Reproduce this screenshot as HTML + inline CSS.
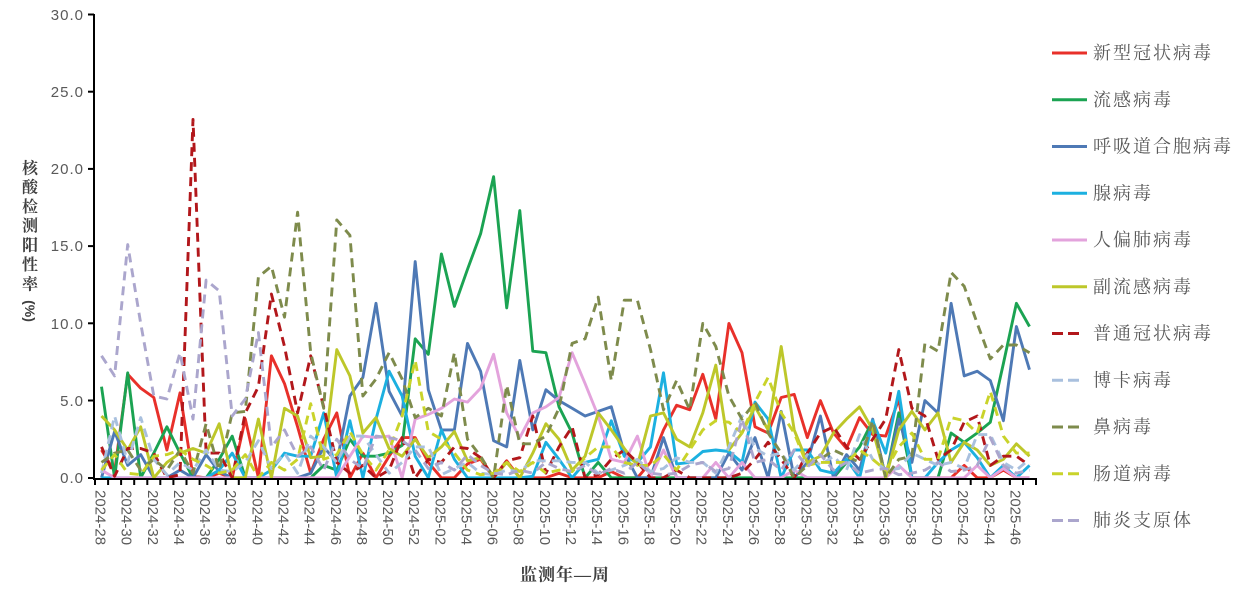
<!DOCTYPE html>
<html><head><meta charset="utf-8">
<style>
html,body{margin:0;padding:0;background:#fff;}
svg{display:block;}
.yt{font-family:"Liberation Sans",sans-serif;font-size:15px;fill:#595959;letter-spacing:1px;}
.xt{font-family:"Liberation Sans",sans-serif;font-size:15px;fill:#595959;}
.lg{font-family:"Liberation Serif","Noto Serif CJK SC",serif;font-size:18px;fill:#595959;letter-spacing:2px;}
.ti{font-family:"Liberation Serif","Noto Serif CJK SC",serif;font-weight:bold;fill:#404040;}
</style></head><body>
<svg id="c" width="1247" height="605" viewBox="0 0 1247 605" xmlns="http://www.w3.org/2000/svg">
<g id="series" fill="none" stroke-width="2.9" stroke-linejoin="round"></g>
<g stroke="#000" stroke-width="2" fill="none">
<line x1="94" y1="14" x2="94" y2="479"/>
<line x1="93" y1="479" x2="1036" y2="479"/>
<line x1="88" y1="14.5" x2="94" y2="14.5"/>
<line x1="88" y1="91.7" x2="94" y2="91.7"/>
<line x1="88" y1="168.9" x2="94" y2="168.9"/>
<line x1="88" y1="246.1" x2="94" y2="246.1"/>
<line x1="88" y1="323.3" x2="94" y2="323.3"/>
<line x1="88" y1="400.5" x2="94" y2="400.5"/>
<line x1="88" y1="478" x2="94" y2="478"/>
</g>
<g id="xticks" stroke="#000" stroke-width="2"></g>
<g class="yt" text-anchor="end">
<text x="84" y="20">30.0</text>
<text x="84" y="97">25.0</text>
<text x="84" y="174">20.0</text>
<text x="84" y="251">15.0</text>
<text x="84" y="329">10.0</text>
<text x="84" y="406">5.0</text>
<text x="84" y="483">0.0</text>
</g>
<g class="xt" dominant-baseline="central">
<text transform="translate(100,490) rotate(90)">2024-28</text>
<text transform="translate(126.1,490) rotate(90)">2024-30</text>
<text transform="translate(152.3,490) rotate(90)">2024-32</text>
<text transform="translate(178.4,490) rotate(90)">2024-34</text>
<text transform="translate(204.6,490) rotate(90)">2024-36</text>
<text transform="translate(230.7,490) rotate(90)">2024-38</text>
<text transform="translate(256.8,490) rotate(90)">2024-40</text>
<text transform="translate(283,490) rotate(90)">2024-42</text>
<text transform="translate(309.1,490) rotate(90)">2024-44</text>
<text transform="translate(335.3,490) rotate(90)">2024-46</text>
<text transform="translate(361.4,490) rotate(90)">2024-48</text>
<text transform="translate(387.5,490) rotate(90)">2024-50</text>
<text transform="translate(413.7,490) rotate(90)">2024-52</text>
<text transform="translate(439.8,490) rotate(90)">2025-02</text>
<text transform="translate(466,490) rotate(90)">2025-04</text>
<text transform="translate(492.1,490) rotate(90)">2025-06</text>
<text transform="translate(518.2,490) rotate(90)">2025-08</text>
<text transform="translate(544.4,490) rotate(90)">2025-10</text>
<text transform="translate(570.5,490) rotate(90)">2025-12</text>
<text transform="translate(596.7,490) rotate(90)">2025-14</text>
<text transform="translate(622.8,490) rotate(90)">2025-16</text>
<text transform="translate(648.9,490) rotate(90)">2025-18</text>
<text transform="translate(675.1,490) rotate(90)">2025-20</text>
<text transform="translate(701.2,490) rotate(90)">2025-22</text>
<text transform="translate(727.4,490) rotate(90)">2025-24</text>
<text transform="translate(753.5,490) rotate(90)">2025-26</text>
<text transform="translate(779.6,490) rotate(90)">2025-28</text>
<text transform="translate(805.8,490) rotate(90)">2025-30</text>
<text transform="translate(831.9,490) rotate(90)">2025-32</text>
<text transform="translate(858.1,490) rotate(90)">2025-34</text>
<text transform="translate(884.2,490) rotate(90)">2025-36</text>
<text transform="translate(910.3,490) rotate(90)">2025-38</text>
<text transform="translate(936.5,490) rotate(90)">2025-40</text>
<text transform="translate(962.6,490) rotate(90)">2025-42</text>
<text transform="translate(988.8,490) rotate(90)">2025-44</text>
<text transform="translate(1014.9,490) rotate(90)">2025-46</text>
</g>
<g class="ti" font-size="16" text-anchor="middle" dominant-baseline="central">
<text x="30" y="169">核</text>
<text x="30" y="188">酸</text>
<text x="30" y="207.5">检</text>
<text x="30" y="226.5">测</text>
<text x="30" y="246">阳</text>
<text x="30" y="265.5">性</text>
<text x="30" y="285">率</text>
<text transform="translate(30,311) rotate(90)" style="font-family:'Liberation Sans',sans-serif" font-size="14">(%)</text>
</g>
<text class="ti" x="565" y="575" font-size="17" text-anchor="middle" dominant-baseline="central" letter-spacing="1">监测年—周</text>
<g id="legend" stroke-width="3"></g>
<g class="lg" dominant-baseline="central">
<text x="1093" y="53">新型冠状病毒</text>
<text x="1093" y="99.8">流感病毒</text>
<text x="1093" y="146.5">呼吸道合胞病毒</text>
<text x="1093" y="193.3">腺病毒</text>
<text x="1093" y="240">人偏肺病毒</text>
<text x="1093" y="286.8">副流感病毒</text>
<text x="1093" y="333.5">普通冠状病毒</text>
<text x="1093" y="380.3">博卡病毒</text>
<text x="1093" y="427">鼻病毒</text>
<text x="1093" y="473.8">肠道病毒</text>
<text x="1093" y="520.5">肺炎支原体</text>
</g>
</svg>
<script>
(function(){
var NS="http://www.w3.org/2000/svg";
var S=[
["#E8302A",0,[1.8,0.4,6.7,5.8,5.2,1.8,5.5,0.1,0,0.3,0,3.8,0,7.9,6.1,3.3,0.3,2.5,4.2,0,1.6,0,1.4,2.6,2.6,1.0,0,0,0.9,1.2,0,1.1,0,0,0,0.3,0,0,0,0.4,0,0,1.0,3.1,4.7,4.4,6.7,3.8,10.0,8.1,3.3,2.9,5.2,5.4,2.6,5.0,2.9,1.9,3.9,2.8,2.7,5.1,0,0,0,0,0.8,0,0,0.5,0,0]],
["#1BA352",0,[5.9,0,6.8,0,1.6,3.3,1.6,0,0,1.2,2.7,0,0,0,0,0,0,0.8,0.5,2.5,1.4,1.4,1.6,2.1,9.0,8.0,14.5,11.1,13.5,15.8,19.5,11.0,17.3,8.2,8.1,4.6,2.9,0,1.0,0,0,0,0,0,0,0,0,0,0,0,0,0,0,0,0,0,0,1.0,2.0,3.7,0,4.2,0,0,0,2.9,2.3,2.9,3.6,7.4,11.3,9.8]],
["#4E79B5",0,[0,3.0,0.8,1.5,0,0,0.5,0,1.5,0.4,0,0,0,0,0,0,0.3,2.0,1.0,5.3,6.5,11.3,5.6,4.0,14.0,5.7,3.1,3.1,8.7,6.9,2.4,2.0,7.6,3.1,5.7,5.0,4.5,4.0,4.3,4.6,1.6,0,0,2.6,0,0,0,0,1.6,0.5,2.6,0,4.3,0,1.0,4.0,0,1.5,0.5,3.8,0,3.8,1.0,5.0,4.2,11.3,6.6,6.9,6.3,3.7,9.8,7.0]],
["#1CB0E0",0,[0,0,0,0,0,0,0,0,0,0.5,1.6,0,0,0.5,1.6,1.4,1.4,4.2,0,3.7,0,3.8,6.9,5.3,1.4,0,3.1,1.2,0,0,0,0,0,0.1,2.3,1.2,0,1.0,1.2,3.7,1.4,1.0,2.0,6.8,0.9,1.0,1.7,1.8,1.7,1.0,4.9,3.8,0,1.8,1.8,0.5,0.3,1.2,0,3.7,1.6,5.6,0,0,1.0,1.8,2.3,1.3,0,0.8,0,0.8]],
["#E3A3DC",0,[0.5,0,0,0,0,0,0,0,0,0,0,0,0,0,0,0,0,0,0,1.4,2.7,2.6,2.7,0,3.8,4.1,4.5,5.1,4.9,5.8,8.0,4.2,2.6,4.2,4.6,5.2,8.1,6.1,4.0,1.2,1.0,2.7,0,1.8,0,0,0,1.0,0,1.0,0,0,0,0.5,0,0,0,0,0,0,0,0.8,0,0,0,0,0,0.8,0,0.6,0,0]],
["#BDC72A",0,[4.0,3.1,1.8,3.3,0,1.0,1.6,1.9,1.6,3.5,0,0,3.8,0,4.5,4.0,1.3,1.4,8.3,6.6,2.9,3.9,1.9,1.4,2.5,1.3,2.0,3.0,1.1,1.3,0,1.0,0,1.6,3.5,2.5,0.5,1.4,4.2,3.1,1.9,0.8,4.0,4.2,2.5,2.0,4.2,7.3,1.8,2.9,4.6,3.1,8.5,3.1,1.0,1.4,2.9,3.8,4.6,3.1,0,3.1,4.3,3.1,4.2,1.0,2.3,1.8,0.8,1.2,2.2,1.4]],
["#B2171B",1,[2.0,0.1,1.9,1.9,1.6,0,0.2,23.2,1.6,1.6,0,4.2,5.9,11.9,8.5,4.2,7.9,4.6,1.0,0.3,0.8,0,0.5,2.6,0,1.2,1.0,2.0,1.9,1.3,0,1.1,1.3,4.0,0.3,2.0,3.3,0,0.2,1.2,1.8,1.0,0,0,0.5,0,0,0,0,0.3,1.2,2.3,1.2,0,1.6,2.9,3.3,2.0,1.2,2.5,3.8,8.3,4.5,4.0,1.2,1.8,3.6,4.0,0.8,1.4,1.4,0.8]],
["#A9C0DE",1,[0.3,4.0,1.0,3.9,1.2,0.2,1.0,0.5,1.8,0.5,0.4,1.0,2.4,0.6,1.6,0.3,2.7,2.0,1.0,2.7,2.7,1.5,0.3,1.0,2.0,2.0,0.2,0.6,1.0,0.3,0.2,0.5,0.4,1.1,1.1,1.1,1.0,1.0,0.3,0.5,0.8,1.2,0.4,0.6,1.3,1.0,1.0,0.3,2.0,4.0,1.9,1.4,1.6,0.5,1.5,0.8,1.4,0.5,2.8,1.2,0.5,0.6,1.6,1.2,0.8,1.0,0.6,2.8,2.8,1.0,0.5,1.2]],
["#7E8B4C",1,[1.0,1.6,1.8,0.5,1.2,0.5,1.8,0.3,3.5,0.5,4.2,4.3,13.0,13.7,10.4,17.2,8.1,4.5,16.7,15.7,5.3,6.4,8.1,6.4,3.9,4.5,4.0,8.1,2.5,1.4,0,6.0,2.2,2.2,2.7,4.5,8.7,9.0,11.7,6.3,11.5,11.5,8.3,4.4,6.3,4.4,10.0,8.5,5.3,3.8,4.9,2.9,1.6,0,0.8,1.2,1.8,1.4,1.0,3.7,0,1.2,1.4,8.7,8.2,13.3,12.4,10.0,7.7,8.6,8.6,8.1]],
["#C9D32A",1,[0.5,1.5,0.3,0.2,1.4,1.5,1.8,1.2,0.8,0.3,0.5,1.5,0,1.0,0.5,1.2,4.8,1.2,1.5,3.0,1.5,0.5,1.8,4.0,7.6,3.0,2.5,1.6,0.5,0.2,0.3,1.0,0.4,1.0,0.3,0.5,0.4,1.3,2.0,2.0,1.0,0.8,0.8,1.5,0.5,1.8,3.1,3.7,3.6,2.9,4.9,6.5,4.2,2.9,0.8,1.0,1.0,1.0,1.8,1.2,0.5,2.0,2.9,1.2,1.2,3.9,3.7,2.9,5.6,2.7,1.6,1.6]],
["#ABA6CD",1,[7.9,6.6,15.1,10.0,5.3,5.1,8.1,3.8,12.8,12.1,4.0,5.1,9.4,2.0,3.1,1.4,2.0,0.5,2.5,1.2,0.6,2.7,2.6,2.4,1.8,0.6,1.0,0.5,1.5,0.8,0.3,0.2,0.5,0.3,1.0,0.6,0.4,0.8,0.2,0.6,0.3,1.0,0.3,0.2,0.3,0.8,1.0,0.4,0.6,3.8,1.0,1.2,0.5,1.8,0.7,1.5,0.5,1.0,0.3,0.5,0.6,0.2,0.3,0.5,1.0,0.4,0.5,0.8,2.6,0.8,0.3,0.5]]
];
var g=document.getElementById("series"),lg=document.getElementById("legend"),xt=document.getElementById("xticks");
var Y0=477.8,K=(477.8-14.5)/30,STEP=13.07,X0=95;
S.forEach(function(s,k){
  var d="";
  s[2].forEach(function(v,i){
    var x=X0+STEP*(i+0.5),y=Y0-K*v;
    d+=(i?"L":"M")+x.toFixed(1)+" "+y.toFixed(1);
  });
  var p=document.createElementNS(NS,"path");
  p.setAttribute("d",d);p.setAttribute("stroke",s[0]);
  if(s[1])p.setAttribute("stroke-dasharray","9 6");
  g.appendChild(p);
  var ry=53+46.75*k;
  if(s[1]){
    [[1052,1063],[1068,1079]].forEach(function(a){
      var l=document.createElementNS(NS,"line");
      l.setAttribute("x1",a[0]);l.setAttribute("x2",a[1]);l.setAttribute("y1",ry);l.setAttribute("y2",ry);l.setAttribute("stroke",s[0]);lg.appendChild(l);
    });
  } else {
    var l=document.createElementNS(NS,"line");
    l.setAttribute("x1",1052);l.setAttribute("x2",1087);l.setAttribute("y1",ry);l.setAttribute("y2",ry);l.setAttribute("stroke",s[0]);lg.appendChild(l);
  }
});
for(var t=0;t<=72;t++){
  var x=X0+STEP*t;
  var l=document.createElementNS(NS,"line");
  l.setAttribute("x1",x.toFixed(1));l.setAttribute("x2",x.toFixed(1));l.setAttribute("y1",478);l.setAttribute("y2",485);
  xt.appendChild(l);
}
})();
</script>
</body></html>
